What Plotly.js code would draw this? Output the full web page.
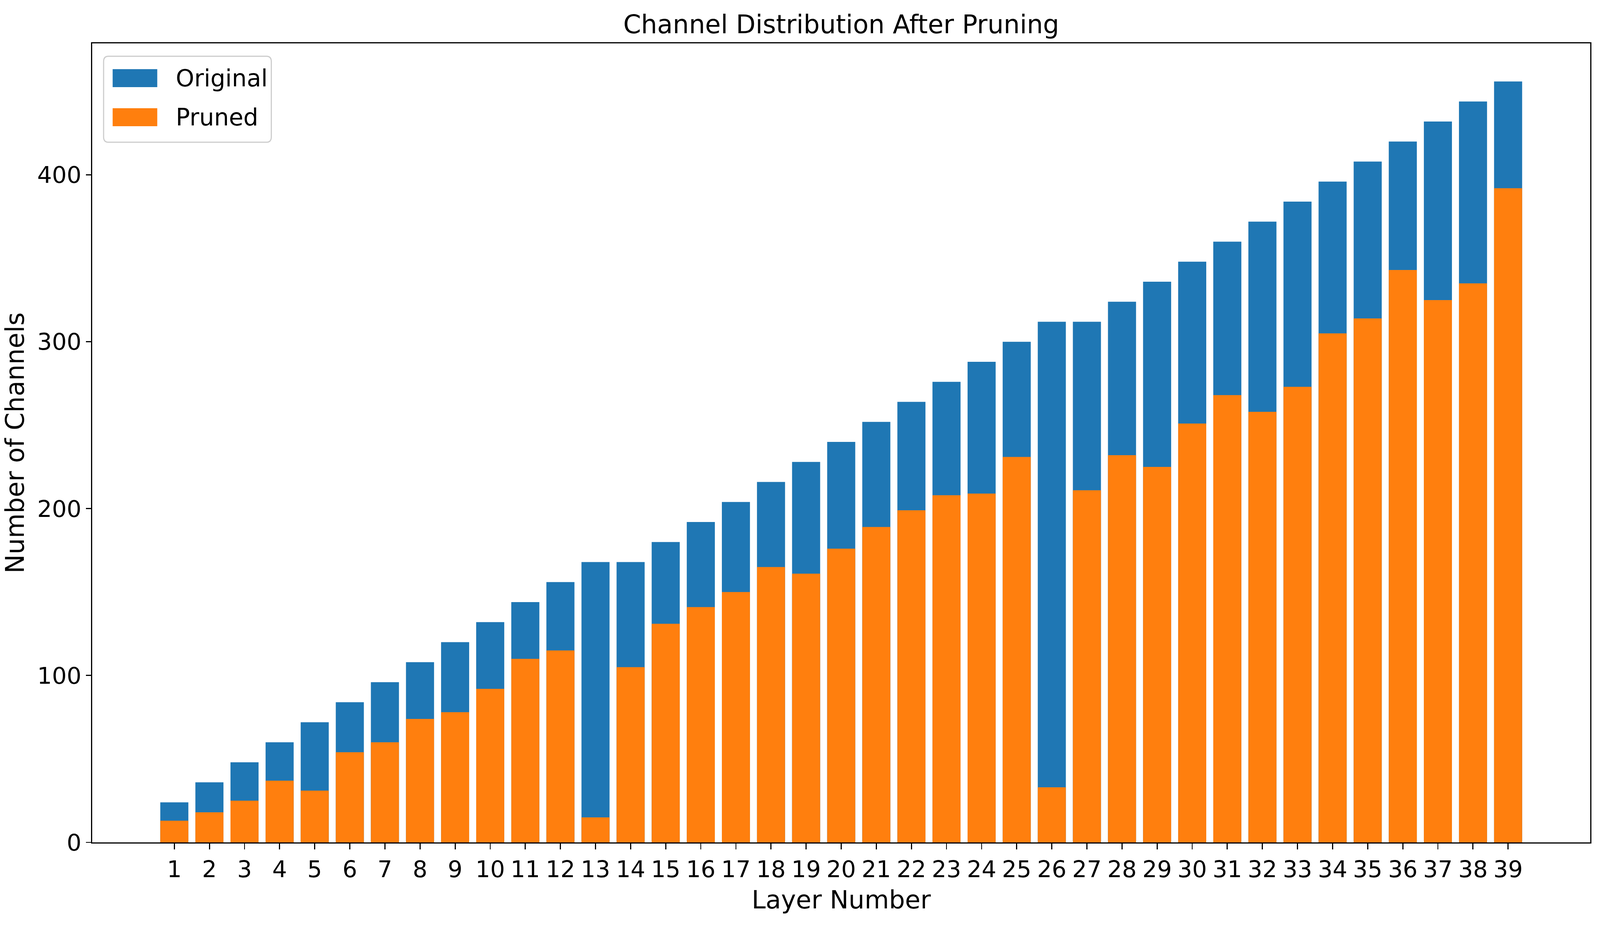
<!DOCTYPE html>
<html>
<head>
<meta charset="utf-8">
<script src="https://cdn.plot.ly/plotly-3.0.1.min.js"></script>
<style>
  html, body { margin: 0; padding: 0; background: #ffffff; overflow: hidden; }
  #chart { position: absolute; left: 0; top: 0; }
</style>
</head>
<body>
<div id="chart"></div>
<script>
// ---- Data ----
const layers = [1,2,3,4,5,6,7,8,9,10,11,12,13,14,15,16,17,18,19,20,21,22,23,24,25,26,27,28,29,30,31,32,33,34,35,36,37,38,39];
const originalChannels = [24,36,48,60,72,84,96,108,120,132,144,156,168,168,180,192,204,216,228,240,252,264,276,288,300,312,312,324,336,348,360,372,384,396,408,420,432,444,456];
const prunedChannels = [13,18,25,37,31,54,60,74,78,92,110,115,15,105,131,141,150,165,161,176,189,199,208,209,231,33,211,232,225,251,268,258,273,305,314,343,325,335,392];
const seriesNames = ["Original", "Pruned"];
const seriesColors = ["#1f77b4", "#ff7f0e"];
const yTicks = [0, 100, 200, 300, 400];
const titleText = "Channel Distribution After Pruning";
const xTitle = "Layer Number";
const yTitle = "Number of Channels";

// ---- Geometry: designed for 4770x2370, scaled to the actual viewport ----
const BASE_W = 4770, BASE_H = 2370;
const W = Math.max(300, window.innerWidth || document.documentElement.clientWidth || BASE_W);
const H = Math.max(200, window.innerHeight || document.documentElement.clientHeight || BASE_H);
const sx = W / BASE_W, sy = H / BASE_H, sf = Math.min(sx, sy);
const M = { l: 275 * sx, r: 29 * sx, t: 111 * sy, b: 214 * sy, pad: 0 };
const PW = W - M.l - M.r, PH = H - M.t - M.b;
// base-canvas px -> paper coordinates
const px = x => (x * sx - M.l) / PW;
const py = y => (H - M.b - y * sy) / PH;

const FONT = "DejaVu Sans, Liberation Sans, sans-serif";
const LW = 3.3 * sf;

const traces = [
  { type: "bar", name: seriesNames[0], x: layers, y: originalChannels, width: 0.8,
    marker: { color: seriesColors[0], line: { width: 0 } } },
  { type: "bar", name: seriesNames[1], x: layers, y: prunedChannels, width: 0.8,
    marker: { color: seriesColors[1], line: { width: 0 } } }
];

// ---- Legend (matplotlib style frame, swatches and labels) ----
function roundedRect(x0, y0, x1, y1, r) {
  const a0 = px(x0), a1 = px(x1), b0 = py(y1), b1 = py(y0);
  const rx = r * sx / PW, ry = r * sy / PH;
  return `M ${a0 + rx},${b1} L ${a1 - rx},${b1} Q ${a1},${b1} ${a1},${b1 - ry} ` +
         `L ${a1},${b0 + ry} Q ${a1},${b0} ${a1 - rx},${b0} L ${a0 + rx},${b0} ` +
         `Q ${a0},${b0} ${a0},${b0 + ry} L ${a0},${b1 - ry} Q ${a0},${b1} ${a0 + rx},${b1} Z`;
}
const legendBox = { x0: 309, y0: 144, x1: 809, y1: 364 };
const legendRows = [200, 300];
const shapes = [
  { type: "path", xref: "paper", yref: "paper",
    path: roundedRect(legendBox.x0, legendBox.y0, legendBox.x1, legendBox.y1, 14),
    fillcolor: "rgba(255,255,255,0.8)", line: { color: "#cccccc", width: LW } }
];
const annotations = [];
seriesNames.forEach((name, i) => {
  const cy = legendRows[i];
  shapes.push({ type: "rect", xref: "paper", yref: "paper",
    x0: px(336), x1: px(469), y0: py(cy + 23), y1: py(cy - 23),
    fillcolor: seriesColors[i], line: { width: 0 } });
  annotations.push({ xref: "paper", yref: "paper", x: px(522), y: py(cy),
    xanchor: "left", yanchor: "middle", showarrow: false, text: name,
    font: { family: FONT, size: 70 * sf, color: "#000000" } });
});

const layout = {
  width: W, height: H,
  margin: M,
  paper_bgcolor: "#ffffff", plot_bgcolor: "#ffffff",
  showlegend: false,
  barmode: "overlay",
  font: { family: FONT, color: "#000000" },
  title: { text: titleText, font: { family: FONT, size: 76 * sf, color: "#000000" },
           x: 0.5, xref: "paper", y: 1 - 62 / BASE_H, yref: "container", yanchor: "middle" },
  xaxis: {
    range: [-1.34, 41.34], tickmode: "array", tickvals: layers, ticktext: layers.map(String),
    showgrid: false, zeroline: false, showline: true, mirror: true,
    linecolor: "#000000", linewidth: LW,
    ticks: "outside", ticklen: 15 * sy, tickwidth: LW, tickcolor: "#000000",
    tickfont: { family: FONT, size: 69 * sf, color: "#000000" },
    title: { text: xTitle, font: { family: FONT, size: 75 * sf, color: "#000000" }, standoff: 22 * sy },
    automargin: false
  },
  yaxis: {
    range: [0, 478.8], tickmode: "array", tickvals: yTicks, ticktext: yTicks.map(String),
    showgrid: false, zeroline: false, showline: true, mirror: true,
    linecolor: "#000000", linewidth: LW,
    ticks: "outside", ticklen: 15 * sx, tickwidth: LW, tickcolor: "#000000",
    tickfont: { family: FONT, size: 69 * sf, color: "#000000" },
    title: { text: yTitle, font: { family: FONT, size: 76 * sf, color: "#000000" }, standoff: 26 * sx },
    automargin: false
  },
  shapes: shapes,
  annotations: annotations
};

Plotly.newPlot("chart", traces, layout, { displayModeBar: false, staticPlot: true });
</script>
</body>
</html>
